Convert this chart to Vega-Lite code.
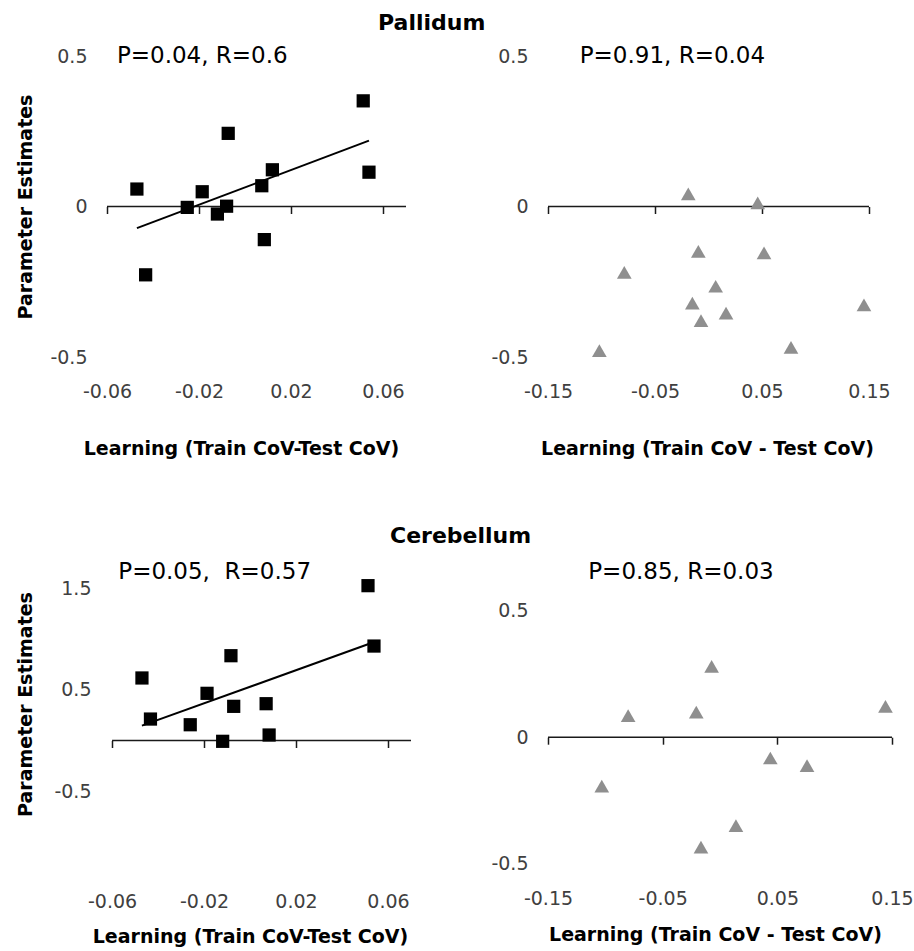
{
  "$schema": "https://vega.github.io/schema/vega-lite/v6.json",
  "background": "white",
  "padding": {"left": 16, "top": 12, "right": 10, "bottom": 5},
  "title": {"text": "Pallidum", "anchor": "start", "frame": "group", "dx": 271, "font": "DejaVu Sans", "fontSize": 22, "fontWeight": "bold", "color": "black", "baseline": "top", "offset": 10},
  "config": {
    "view": {"stroke": null},
    "axis": {"grid": false, "labelFont": "DejaVu Sans", "labelFontSize": 19, "labelColor": "#404040", "labelFlush": false, "labelOverlap": false, "titleFont": "DejaVu Sans", "titleFontSize": 19, "titleFontWeight": "bold", "titleColor": "black"}
  },
  "datasets": {
    "p1": [
      {"x": -0.047, "y": 0.058}, {"x": -0.0432, "y": -0.227}, {"x": -0.0251, "y": -0.003},
      {"x": -0.0186, "y": 0.049}, {"x": -0.012, "y": -0.025}, {"x": -0.008, "y": 0.001},
      {"x": -0.0073, "y": 0.243}, {"x": 0.0073, "y": 0.069}, {"x": 0.0084, "y": -0.11},
      {"x": 0.0119, "y": 0.122}, {"x": 0.0514, "y": 0.351}, {"x": 0.0539, "y": 0.114}
    ],
    "fit1": [{"x": -0.047, "y": -0.072}, {"x": 0.0539, "y": 0.219}],
    "p2": [
      {"x": -0.0189, "y": 0.042}, {"x": 0.046, "y": 0.012}, {"x": -0.0095, "y": -0.149},
      {"x": 0.0519, "y": -0.154}, {"x": -0.0787, "y": -0.219}, {"x": 0.0067, "y": -0.265},
      {"x": -0.0151, "y": -0.321}, {"x": 0.0164, "y": -0.354}, {"x": -0.007, "y": -0.379},
      {"x": 0.1453, "y": -0.327}, {"x": -0.102, "y": -0.479}, {"x": 0.0771, "y": -0.468}
    ],
    "p3": [
      {"x": -0.047, "y": 0.615}, {"x": -0.0433, "y": 0.211}, {"x": -0.026, "y": 0.155},
      {"x": -0.0187, "y": 0.464}, {"x": -0.0119, "y": -0.008}, {"x": -0.0083, "y": 0.834},
      {"x": -0.0071, "y": 0.336}, {"x": 0.007, "y": 0.362}, {"x": 0.0083, "y": 0.054},
      {"x": 0.0513, "y": 1.523}, {"x": 0.0539, "y": 0.929}
    ],
    "fit3": [{"x": -0.047, "y": 0.146}, {"x": 0.0537, "y": 0.966}],
    "p4": [
      {"x": -0.0073, "y": 0.28}, {"x": -0.0801, "y": 0.085}, {"x": -0.0207, "y": 0.099},
      {"x": 0.1443, "y": 0.122}, {"x": 0.0439, "y": -0.082}, {"x": 0.0759, "y": -0.112},
      {"x": -0.1031, "y": -0.193}, {"x": 0.0139, "y": -0.349}, {"x": -0.0166, "y": -0.434}
    ]
  },
  "columns": 2,
  "bounds": "flush",
  "align": "none",
  "spacing": {"row": 231, "column": 137},
  "concat": [
    {
      "width": 299, "height": 301,
      "layer": [
        {"data": {"values": [{}]}, "mark": {"type": "rule", "color": "#1a1a1a", "strokeWidth": 1.5},
          "encoding": {
            "x": {"datum": -0.06, "type": "quantitative", "scale": {"domain": [-0.06, 0.07], "nice": false, "zero": false}},
            "x2": {"datum": 0.07},
            "y": {"datum": 0, "type": "quantitative", "scale": {"domain": [-0.5, 0.5], "nice": false, "zero": false}}}},
        {"data": {"name": "fit1"}, "mark": {"type": "line", "color": "black", "strokeWidth": 2},
          "encoding": {
            "x": {"field": "x", "type": "quantitative", "scale": {"domain": [-0.06, 0.07], "nice": false, "zero": false}},
            "y": {"field": "y", "type": "quantitative", "scale": {"domain": [-0.5, 0.5], "nice": false, "zero": false}}}},
        {"data": {"name": "p1"}, "mark": {"type": "point", "shape": "square", "filled": true, "size": 175, "color": "black", "opacity": 1},
          "encoding": {
            "x": {"field": "x", "type": "quantitative", "scale": {"domain": [-0.06, 0.07], "nice": false, "zero": false},
              "axis": {"values": [-0.06, -0.02, 0.02, 0.06], "labelExpr": "'' + datum.value", "domain": false, "ticks": true, "tickSize": 7, "tickColor": "#1a1a1a", "tickWidth": 1.5, "offset": -150.5, "labelPadding": 169, "title": "Learning (Train CoV-Test CoV)", "titlePadding": 38, "titleX": 134}},
            "y": {"field": "y", "type": "quantitative", "scale": {"domain": [-0.5, 0.5], "nice": false, "zero": false},
              "axis": {"values": [-0.5, 0, 0.5], "labelExpr": "'' + datum.value", "domain": false, "ticks": false, "tickSize": 0, "labelPadding": 20, "minExtent": 57, "maxExtent": 57, "title": "Parameter Estimates", "titlePadding": 15}}}},
        {"data": {"values": [{"label": "P=0.04, R=0.6"}]}, "mark": {"type": "text", "align": "left", "baseline": "middle", "font": "DejaVu Sans", "fontSize": 23, "color": "black"},
          "encoding": {
            "x": {"datum": -0.0557, "type": "quantitative", "scale": {"domain": [-0.06, 0.07], "nice": false, "zero": false}},
            "y": {"datum": 0.5, "type": "quantitative", "scale": {"domain": [-0.5, 0.5], "nice": false, "zero": false}},
            "text": {"field": "label"}}}
      ]
    },
    {
      "width": 321, "height": 301,
      "layer": [
        {"data": {"values": [{}]}, "mark": {"type": "rule", "color": "#1a1a1a", "strokeWidth": 1.5},
          "encoding": {
            "x": {"datum": -0.15, "type": "quantitative", "scale": {"domain": [-0.15, 0.15], "nice": false, "zero": false}},
            "x2": {"datum": 0.15},
            "y": {"datum": 0, "type": "quantitative", "scale": {"domain": [-0.5, 0.5], "nice": false, "zero": false}}}},
        {"data": {"name": "p2"}, "mark": {"type": "point", "shape": "triangle-up", "filled": true, "size": 215, "color": "#8f8f8f", "opacity": 1},
          "encoding": {
            "x": {"field": "x", "type": "quantitative", "scale": {"domain": [-0.15, 0.15], "nice": false, "zero": false},
              "axis": {"values": [-0.15, -0.05, 0.05, 0.15], "labelExpr": "'' + datum.value", "domain": false, "ticks": true, "tickSize": 7, "tickColor": "#1a1a1a", "tickWidth": 1.5, "offset": -150.5, "labelPadding": 169, "title": "Learning (Train CoV - Test CoV)", "titlePadding": 38, "titleX": 159}},
            "y": {"field": "y", "type": "quantitative", "scale": {"domain": [-0.5, 0.5], "nice": false, "zero": false},
              "axis": {"values": [-0.5, 0, 0.5], "labelExpr": "'' + datum.value", "domain": false, "ticks": false, "tickSize": 0, "labelPadding": 20, "title": null}}}},
        {"data": {"values": [{"label": "P=0.91, R=0.04"}]}, "mark": {"type": "text", "align": "left", "baseline": "middle", "font": "DejaVu Sans", "fontSize": 23, "color": "black"},
          "encoding": {
            "x": {"datum": -0.1204, "type": "quantitative", "scale": {"domain": [-0.15, 0.15], "nice": false, "zero": false}},
            "y": {"datum": 0.5, "type": "quantitative", "scale": {"domain": [-0.5, 0.5], "nice": false, "zero": false}},
            "text": {"field": "label"}}}
      ]
    },
    {
      "width": 304, "height": 305,
      "title": {"text": "Cerebellum", "anchor": "start", "frame": "group", "dx": 283, "dy": 16, "font": "DejaVu Sans", "fontSize": 22, "fontWeight": "bold", "color": "black", "baseline": "alphabetic", "offset": 12},
      "layer": [
        {"data": {"values": [{}]}, "mark": {"type": "rule", "color": "#1a1a1a", "strokeWidth": 1.5},
          "encoding": {
            "x": {"datum": -0.06, "type": "quantitative", "scale": {"domain": [-0.0622, 0.07], "nice": false, "zero": false}},
            "x2": {"datum": 0.07},
            "y": {"datum": 0, "type": "quantitative", "scale": {"domain": [-1.5, 1.5], "nice": false, "zero": false}}}},
        {"data": {"name": "fit3"}, "mark": {"type": "line", "color": "black", "strokeWidth": 2},
          "encoding": {
            "x": {"field": "x", "type": "quantitative", "scale": {"domain": [-0.0622, 0.07], "nice": false, "zero": false}},
            "y": {"field": "y", "type": "quantitative", "scale": {"domain": [-1.5, 1.5], "nice": false, "zero": false}}}},
        {"data": {"name": "p3"}, "mark": {"type": "point", "shape": "square", "filled": true, "size": 175, "color": "black", "opacity": 1},
          "encoding": {
            "x": {"field": "x", "type": "quantitative", "scale": {"domain": [-0.0622, 0.07], "nice": false, "zero": false},
              "axis": {"values": [-0.06, -0.02, 0.02, 0.06], "labelExpr": "'' + datum.value", "domain": false, "ticks": true, "tickSize": 7, "tickColor": "#1a1a1a", "tickWidth": 1.5, "offset": -152.5, "labelPadding": 145, "title": "Learning (Train CoV-Test CoV)", "titlePadding": 16, "titleX": 143}},
            "y": {"field": "y", "type": "quantitative", "scale": {"domain": [-1.5, 1.5], "nice": false, "zero": false},
              "axis": {"values": [-0.5, 0.5, 1.5], "labelExpr": "'' + datum.value", "domain": false, "ticks": false, "tickSize": 0, "labelPadding": 16, "minExtent": 53, "maxExtent": 53, "title": "Parameter Estimates", "titlePadding": 19, "titleY": 116}}}},
        {"data": {"values": [{"label": "P=0.05,\u00a0 R=0.57"}]}, "mark": {"type": "text", "align": "left", "baseline": "middle", "font": "DejaVu Sans", "fontSize": 23, "color": "black"},
          "encoding": {
            "x": {"datum": -0.0573, "type": "quantitative", "scale": {"domain": [-0.0622, 0.07], "nice": false, "zero": false}},
            "y": {"datum": 1.657, "type": "quantitative", "scale": {"domain": [-1.5, 1.5], "nice": false, "zero": false}},
            "text": {"field": "label"}}}
      ]
    },
    {
      "width": 344, "height": 305,
      "layer": [
        {"data": {"values": [{}]}, "mark": {"type": "rule", "color": "#1a1a1a", "strokeWidth": 1.5},
          "encoding": {
            "x": {"datum": -0.15, "type": "quantitative", "scale": {"domain": [-0.15, 0.15], "nice": false, "zero": false}},
            "x2": {"datum": 0.15},
            "y": {"datum": 0, "type": "quantitative", "scale": {"domain": [-0.615, 0.589], "nice": false, "zero": false}}}},
        {"data": {"name": "p4"}, "mark": {"type": "point", "shape": "triangle-up", "filled": true, "size": 215, "color": "#8f8f8f", "opacity": 1},
          "encoding": {
            "x": {"field": "x", "type": "quantitative", "scale": {"domain": [-0.15, 0.15], "nice": false, "zero": false},
              "axis": {"values": [-0.15, -0.05, 0.05, 0.15], "labelExpr": "'' + datum.value", "domain": false, "ticks": true, "tickSize": 7, "tickColor": "#1a1a1a", "tickWidth": 1.5, "offset": -155.8, "labelPadding": 145, "title": "Learning (Train CoV - Test CoV)", "titlePadding": 17, "titleX": 167}},
            "y": {"field": "y", "type": "quantitative", "scale": {"domain": [-0.615, 0.589], "nice": false, "zero": false},
              "axis": {"values": [-0.5, 0, 0.5], "labelExpr": "'' + datum.value", "domain": false, "ticks": false, "tickSize": 0, "labelPadding": 20, "title": null}}}},
        {"data": {"values": [{"label": "P=0.85, R=0.03"}]}, "mark": {"type": "text", "align": "left", "baseline": "middle", "font": "DejaVu Sans", "fontSize": 23, "color": "black"},
          "encoding": {
            "x": {"datum": -0.1149, "type": "quantitative", "scale": {"domain": [-0.15, 0.15], "nice": false, "zero": false}},
            "y": {"datum": 0.651, "type": "quantitative", "scale": {"domain": [-0.615, 0.589], "nice": false, "zero": false}},
            "text": {"field": "label"}}}
      ]
    }
  ]
}
